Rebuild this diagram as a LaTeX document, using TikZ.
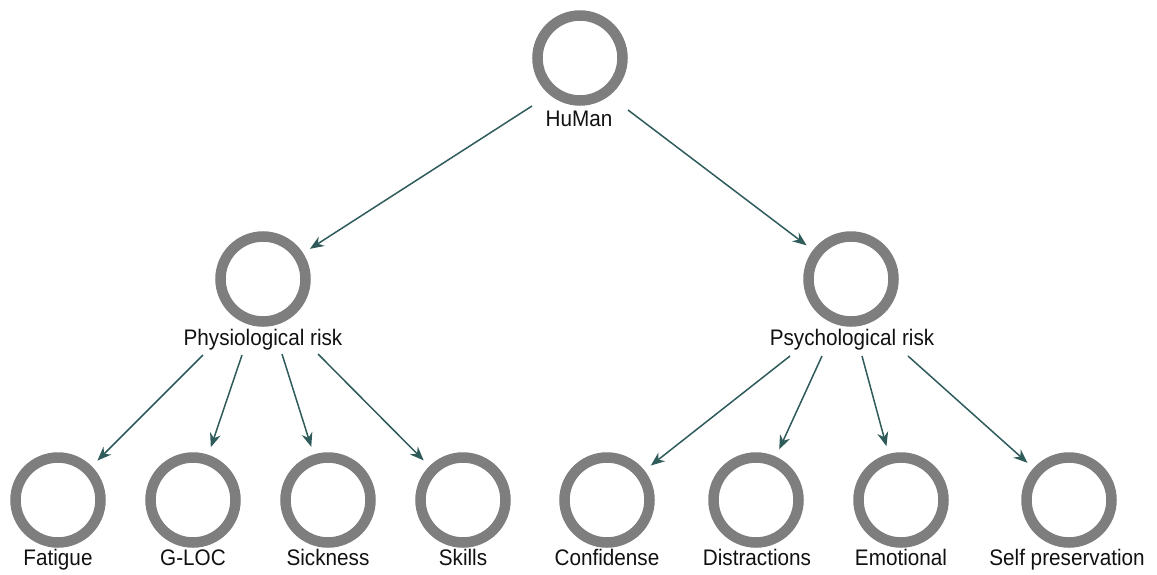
\documentclass[tikz,border=0pt]{standalone}
\usepackage{fontspec}
\setmainfont{Liberation Sans}[FakeStretch=0.92]
\usetikzlibrary{arrows.meta}
\definecolor{ringgray}{HTML}{7E7E7E}
\definecolor{linkteal}{HTML}{2F5B5B}
\definecolor{ink}{HTML}{111111}
\begin{document}
\begin{tikzpicture}[x=1pt,y=-1pt,
  hub/.style={circle,draw=ringgray,line width=10.5pt,minimum size=85pt,inner sep=0pt},
  lbl/.style={anchor=base,text=ink,font=\fontsize{22.5}{26}\selectfont,inner sep=0pt},
  arrowlink/.style={draw=linkteal,line width=1.5pt,-{Stealth[length=14pt,width=11pt]},shorten >=8pt}]
\useasboundingbox (0,0) rectangle (1157,574);

% root
\node[hub] (human) at (580,58) {};
\node[lbl] (human-t) at (579,126) {HuMan};

% second level
\node[hub] (phys) at (263,279) {};
\node[lbl] (phys-t) at (263,345) {Physiological risk};
\node[hub] (psych) at (851,279) {};
\node[lbl] (psych-t) at (852,345) {Psychological risk};

% leaves
\foreach \name/\cx/\tx/\txt in {fat/58/58/Fatigue, gloc/193/193/G-LOC, sick/328/328/Sickness,
    skill/463/463/Skills, conf/607/607/Confidense, dist/756/757/Distractions,
    emo/901/901/Emotional, self/1069/1067/Self preservation}{
  \node[hub] (\name) at (\cx,500) {};
  \node[lbl] (\name-t) at (\tx,565) {\txt};
}

% connector start points under the labels
\coordinate (hl) at (532,106);
\coordinate (hr) at (628,110);
\coordinate (p1) at (203,355);
\coordinate (p2) at (242,355);
\coordinate (p3) at (282,354);
\coordinate (p4) at (318,354);
\coordinate (q1) at (790,356);
\coordinate (q2) at (822,356);
\coordinate (q3) at (862,356);
\coordinate (q4) at (908,356);

\draw[arrowlink] (hl) -- (phys);
\draw[arrowlink] (hr) -- (psych);
\draw[arrowlink] (p1) -- (fat);
\draw[arrowlink] (p2) -- (gloc);
\draw[arrowlink] (p3) -- (sick);
\draw[arrowlink] (p4) -- (skill);
\draw[arrowlink] (q1) -- (conf);
\draw[arrowlink] (q2) -- (dist);
\draw[arrowlink] (q3) -- (emo);
\draw[arrowlink] (q4) -- (self);
\end{tikzpicture}
\end{document}
